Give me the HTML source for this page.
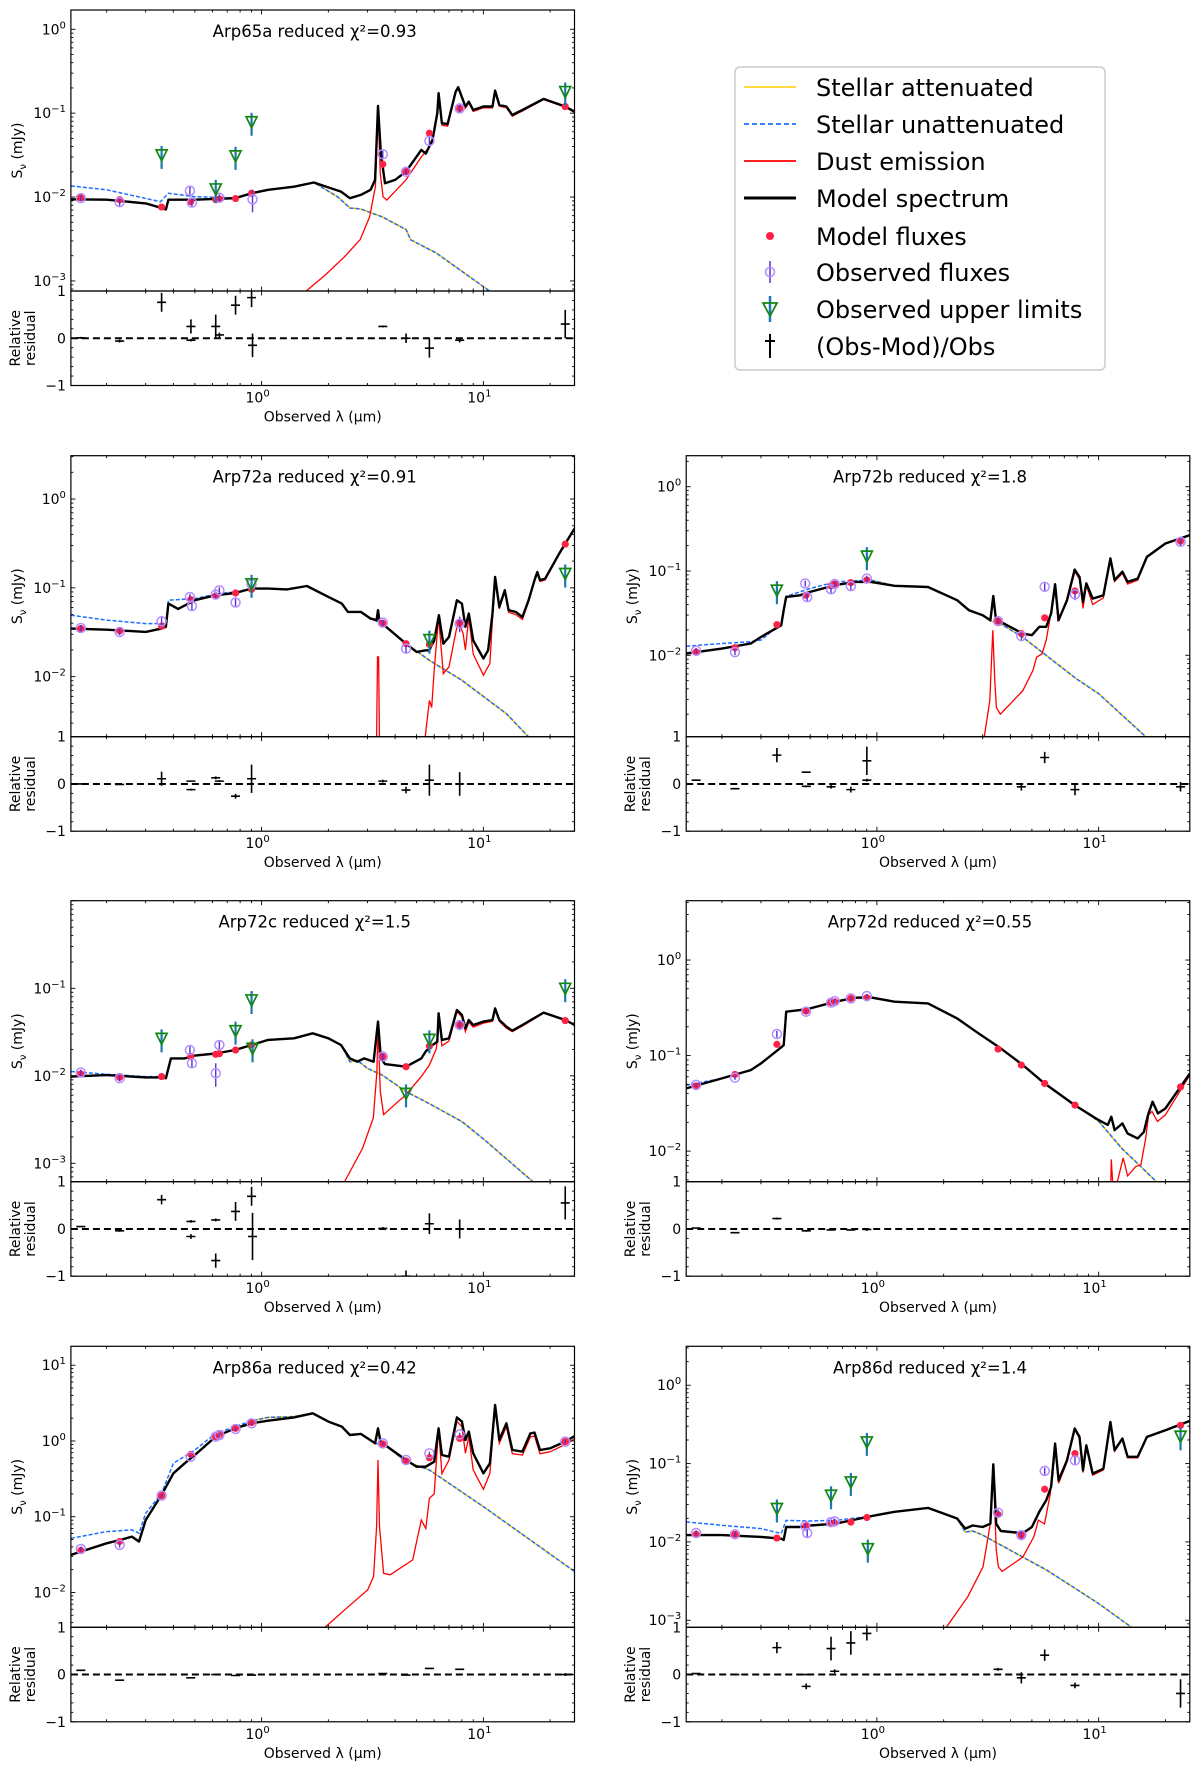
<!DOCTYPE html>
<html><head><meta charset="utf-8">
<style>
html,body{margin:0;padding:0;background:#fff;}
svg{display:block;font-family:"DejaVu Sans","Liberation Sans",sans-serif;}
</style></head>
<body>
<svg id="fig" xmlns="http://www.w3.org/2000/svg" width="1200" height="1767" viewBox="0 0 1200 1767">
<rect x="0" y="0" width="1200" height="1767" fill="#fff"/>
<g id="legend">
<rect x="735" y="67" width="370" height="303" rx="5" fill="#fff" stroke="#cccccc" stroke-width="1.5"/>
<g>
<line x1="744" y1="87" x2="796" y2="87" stroke="#ffcc00" stroke-width="1.5"/>
<text x="816" y="96" font-size="24">Stellar attenuated</text></g>
<g>
<line x1="744" y1="124" x2="796" y2="124" stroke="#1f6fff" stroke-width="1.8" stroke-dasharray="5,3"/>
<text x="816" y="133" font-size="24">Stellar unattenuated</text></g>
<g>
<line x1="744" y1="161" x2="796" y2="161" stroke="#ff0000" stroke-width="1.8"/>
<text x="816" y="170" font-size="24">Dust emission</text></g>
<g>
<line x1="744" y1="198" x2="796" y2="198" stroke="#000" stroke-width="3"/>
<text x="816" y="207" font-size="24">Model spectrum</text></g>
<g>
<circle cx="770" cy="236" r="4" fill="#ff2244"/>
<text x="816" y="245" font-size="24">Model fluxes</text></g>
<g>
<line x1="770" y1="261" x2="770" y2="283" stroke="#5533cc" stroke-width="1.5"/>
<circle cx="770" cy="272" r="4.5" fill="none" stroke="#b48cff" stroke-width="1.5"/>
<text x="816" y="281" font-size="24">Observed fluxes</text></g>
<g>
<line x1="770" y1="296" x2="770" y2="322" stroke="#1f77b4" stroke-width="2.5"/>
<polygon points="763,303 777,303 770,316" fill="none" stroke="#118811" stroke-width="1.8"/>
<text x="816" y="318" font-size="24">Observed upper limits</text></g>
<g>
<line x1="770" y1="334" x2="770" y2="358" stroke="#000" stroke-width="2"/>
<line x1="765" y1="341" x2="775" y2="341" stroke="#000" stroke-width="2"/>
<text x="816" y="355" font-size="24">(Obs-Mod)/Obs</text></g>
</g>
</svg>
<script>
// ---------- Arp65a ----------
const arp65aModel=[[0.138,0.0094],[0.2,0.0093],[0.3,0.0084],[0.354,0.0074],[0.37,0.0071],[0.38,0.0093],[0.5,0.0093],[0.76,0.0097],[0.9,0.0111],[1.07,0.0122],[1.4,0.0133],[1.72,0.0149],[2.28,0.0116],[2.5,0.0097],[2.8,0.0106],[3.1,0.0122],[3.25,0.016],[3.35,0.122],[3.45,0.033],[3.6,0.0146],[4.0,0.016],[4.48,0.0201],[5.25,0.0365],[5.5,0.033],[5.9,0.048],[6.2,0.1],[6.28,0.173],[6.5,0.076],[6.9,0.074],[7.5,0.181],[7.7,0.204],[8.3,0.12],[8.6,0.137],[9.0,0.109],[10,0.12],[11.0,0.12],[11.3,0.186],[11.8,0.125],[12.7,0.12],[13.5,0.095],[15,0.109],[18.7,0.148],[23.4,0.12],[25.8,0.104]];
const arp65aStellar=[[0.138,0.0136],[0.2,0.0122],[0.35,0.0088],[0.38,0.0111],[0.5,0.0101],[0.76,0.0098],[1.07,0.0122],[1.4,0.0133],[1.72,0.0149],[2.2,0.0101],[2.5,0.0074],[2.8,0.0072],[3.5,0.0058],[4.48,0.0041],[4.7,0.0031],[6.15,0.00214],[10.5,0.00078],[13,0.0005]];
const arp65aDust=[[1.4,0.0004],[1.59,0.00076],[1.94,0.00118],[2.37,0.00195],[2.78,0.0031],[3.07,0.0058],[3.26,0.0133],[3.35,0.11],[3.43,0.019],[3.53,0.0101],[3.67,0.0092],[4.48,0.016],[5.25,0.030],[5.71,0.04],[5.9,0.045],[6.2,0.095],[6.28,0.165],[6.5,0.072],[6.9,0.07],[7.5,0.175],[7.7,0.198],[8.3,0.115],[8.6,0.132],[9.0,0.105],[10,0.116],[11.0,0.116],[11.3,0.18],[11.8,0.121],[12.7,0.116],[13.5,0.092],[15,0.106],[18.7,0.145],[23.4,0.118],[25.8,0.102]];
const arp65aModelFlux=[[0.153,0.0098],[0.229,0.0093],[0.354,0.0076],[0.479,0.0088],[0.621,0.0093],[0.645,0.0095],[0.763,0.0096],[0.901,0.0111],[3.52,0.0246],[4.48,0.0201],[5.71,0.0576],[7.82,0.114],[23.4,0.12]];
const arp65aObs=[[0.153,0.0097,0.08],[0.229,0.0087,0.1],[0.475,0.0119,0.15],[0.485,0.0086,0.1],[0.645,0.0098,0.1],[0.91,0.0094,0.3],[3.52,0.0324,0.1],[4.48,0.02,0.08],[5.71,0.0467,0.12],[7.82,0.114,0.1]];
const arp65aUpper=[[0.354,0.0318],[0.621,0.0125],[0.763,0.031],[0.901,0.079],[23.4,0.181]];
const arp65aResid=[[0.153,0.01,0.02],[0.229,-0.06,0.03],[0.354,0.76,0.2],[0.48,0.25,0.15],[0.48,-0.04,0.03],[0.621,0.25,0.25],[0.645,0.07,0.05],[0.763,0.70,0.2],[0.901,0.86,0.2],[0.91,-0.15,0.25],[3.52,0.25,0.02],[4.48,0,0.1],[5.71,-0.21,0.2],[7.82,-0.04,0.05],[23.4,0.30,0.3]];
// ---------- Arp72a ----------
const arp72aModel=[[0.138,0.0348],[0.2,0.0338],[0.3,0.0319],[0.354,0.0348],[0.37,0.0364],[0.38,0.0665],[0.42,0.058],[0.5,0.0726],[0.62,0.0827],[0.76,0.0875],[0.9,0.098],[1.07,0.098],[1.3,0.096],[1.6,0.105],[2.0,0.079],[2.3,0.0665],[2.45,0.0536],[2.8,0.0536],[3.1,0.0451],[3.3,0.0433],[3.35,0.056],[3.4,0.0416],[3.5,0.0396],[4.48,0.0235],[5.0,0.019],[5.5,0.0198],[5.7,0.0198],[6.0,0.0256],[6.3,0.0492],[6.6,0.0235],[7.0,0.028],[7.6,0.0726],[8.0,0.0665],[8.3,0.0364],[8.6,0.0514],[9.0,0.0256],[10,0.016],[10.5,0.0198],[11.0,0.0514],[11.3,0.133],[11.8,0.061],[12.5,0.094],[13.0,0.056],[14,0.0536],[15,0.047],[16,0.0726],[17,0.122],[17.5,0.151],[18,0.122],[19,0.127],[22,0.244],[25.8,0.467]];
const arp72aStellar=[[0.138,0.0492],[0.2,0.0433],[0.3,0.0396],[0.354,0.0396],[0.37,0.04],[0.38,0.0726],[0.5,0.0756],[0.62,0.085],[0.76,0.090],[0.9,0.098],[1.07,0.098],[1.3,0.096],[1.6,0.105],[2.0,0.079],[2.3,0.0665],[2.45,0.0536],[2.8,0.0536],[3.1,0.0451],[3.5,0.0396],[4.48,0.0235],[5.71,0.0153],[8.0,0.0091],[12.7,0.00383],[16,0.0021],[20,0.0012]];
const arp72aDust=[[3.28,0.0005],[3.33,0.0167],[3.37,0.0167],[3.42,0.0005],[5.1,0.0005],[5.25,0.0021],[5.4,0.0016],[5.71,0.0054],[5.85,0.0045],[6.0,0.0118],[6.28,0.047],[6.6,0.0108],[7.0,0.0129],[7.6,0.0363],[7.8,0.04],[8.1,0.0306],[8.3,0.02],[8.6,0.047],[9.0,0.018],[10,0.0104],[10.7,0.0141],[11.0,0.045],[11.3,0.127],[11.8,0.058],[12.5,0.09],[13.0,0.053],[14,0.05],[15,0.044],[16,0.07],[17,0.118],[17.5,0.147],[18,0.118],[19,0.123],[22,0.24],[25.8,0.46]];
const arp72aModelFlux=[[0.153,0.0348],[0.229,0.0328],[0.354,0.037],[0.479,0.0738],[0.621,0.0812],[0.763,0.0875],[0.901,0.0962],[3.52,0.040],[4.48,0.0235],[5.71,0.0231],[7.82,0.0403],[23.4,0.311]];
const arp72aObs=[[0.153,0.0353,0.08],[0.229,0.0319,0.08],[0.354,0.042,0.15],[0.475,0.079,0.08],[0.485,0.0623,0.1],[0.621,0.084,0.08],[0.645,0.094,0.08],[0.763,0.0684,0.1],[0.901,0.11,0.1],[3.52,0.0406,0.08],[4.48,0.0207,0.1],[7.82,0.0395,0.2]];
const arp72aUpper=[[0.901,0.111],[5.71,0.0261],[23.4,0.145]];
const arp72aResid=[[0.153,0,0.01],[0.229,-0.01,0.01],[0.354,0.11,0.15],[0.48,0.06,0.01],[0.48,-0.12,0.02],[0.621,0.13,0.03],[0.645,0.06,0.02],[0.763,-0.26,0.05],[0.901,0.11,0.3],[3.52,0.06,0.03],[4.48,-0.13,0.07],[5.71,0.08,0.33],[7.82,0,0.25]];
// ---------- Arp72b ----------
const arp72bModel=[[0.138,0.0105],[0.2,0.012],[0.27,0.0138],[0.3,0.0165],[0.37,0.0227],[0.38,0.0343],[0.39,0.0493],[0.45,0.0515],[0.5,0.0565],[0.65,0.068],[0.8,0.0743],[0.94,0.0743],[1.2,0.0667],[1.7,0.0646],[2.3,0.045],[2.6,0.0343],[3.0,0.0299],[3.25,0.0261],[3.35,0.0507],[3.45,0.0249],[3.62,0.0249],[4.55,0.0181],[5.0,0.0173],[5.4,0.0218],[5.8,0.0218],[6.1,0.0313],[6.36,0.0698],[6.6,0.0261],[7.2,0.045],[7.8,0.104],[8.2,0.0852],[8.5,0.043],[8.8,0.0712],[9.4,0.047],[10.5,0.0515],[11.3,0.141],[11.8,0.078],[12.8,0.098],[13.5,0.0743],[15,0.081],[16.5,0.147],[20,0.212],[25.8,0.267]];
const arp72bStellar=[[0.138,0.0128],[0.2,0.0138],[0.27,0.0145],[0.3,0.0152],[0.37,0.0238],[0.39,0.05],[0.5,0.062],[0.65,0.0743],[0.94,0.078],[1.2,0.0667],[1.7,0.0646],[2.3,0.045],[2.6,0.0343],[3.0,0.0299],[3.25,0.0255],[3.62,0.0235],[4.55,0.0164],[7.9,0.0053],[10,0.0035],[16.3,0.00108],[20,0.0007]];
const arp72bDust=[[3.0,0.0005],[3.05,0.00108],[3.23,0.0029],[3.33,0.0198],[3.4,0.005],[3.46,0.0024],[3.6,0.002],[4.55,0.0038],[5.05,0.0066],[5.25,0.0095],[5.56,0.0104],[5.8,0.0151],[6.05,0.0286],[6.36,0.0646],[6.55,0.0261],[7.2,0.043],[7.8,0.098],[8.2,0.08],[8.5,0.036],[8.8,0.068],[9.4,0.04],[10.5,0.048],[11.3,0.138],[11.8,0.075],[12.8,0.094],[13.5,0.07],[15,0.078],[16.5,0.145],[20,0.21],[25.8,0.265]];
const arp72bModelFlux=[[0.153,0.0109],[0.229,0.0123],[0.354,0.0231],[0.479,0.0516],[0.621,0.0667],[0.645,0.07],[0.763,0.0728],[0.901,0.078],[3.52,0.0254],[4.48,0.0181],[5.71,0.0278],[7.82,0.058],[23.4,0.226]];
const arp72bObs=[[0.153,0.0113,0.08],[0.229,0.0109,0.08],[0.475,0.071,0.08],[0.485,0.049,0.1],[0.621,0.0607,0.1],[0.645,0.07,0.08],[0.763,0.0661,0.1],[0.901,0.0814,0.08],[3.52,0.0254,0.08],[4.48,0.0169,0.1],[5.71,0.0649,0.1],[7.82,0.053,0.15],[23.4,0.222,0.1]];
const arp72bUpper=[[0.354,0.0592],[0.901,0.15]];
const arp72bResid=[[0.153,0.08,0.01],[0.229,-0.1,0.01],[0.354,0.61,0.15],[0.48,0.25,0.01],[0.48,-0.05,0.02],[0.621,-0.06,0.04],[0.763,-0.12,0.06],[0.901,0.49,0.3],[0.901,0.08,0.03],[3.52,0,0.02],[4.48,-0.06,0.08],[5.71,0.56,0.12],[7.82,-0.12,0.12],[23.4,-0.06,0.1]];
// ---------- Arp72c ----------
const arp72cModel=[[0.138,0.0098],[0.2,0.0102],[0.3,0.0096],[0.354,0.0096],[0.37,0.0094],[0.39,0.0158],[0.45,0.0158],[0.5,0.017],[0.62,0.018],[0.76,0.0197],[0.9,0.0225],[1.07,0.0257],[1.4,0.0268],[1.7,0.0306],[2.0,0.0268],[2.28,0.0225],[2.5,0.0158],[2.7,0.0145],[2.9,0.0158],[3.2,0.0145],[3.35,0.0416],[3.45,0.0158],[3.6,0.0136],[4.48,0.0127],[5.25,0.0158],[5.5,0.019],[5.9,0.0225],[6.2,0.0245],[6.28,0.0518],[6.5,0.0257],[7.0,0.0268],[7.6,0.0565],[8.0,0.0496],[8.3,0.0349],[8.6,0.0434],[9.0,0.0381],[10,0.0416],[11.0,0.0434],[11.3,0.059],[11.8,0.0434],[12.7,0.0365],[13.5,0.0328],[15,0.0381],[18.7,0.0527],[23.4,0.0434],[25.8,0.0381]];
const arp72cStellar=[[0.138,0.0112],[0.2,0.0104],[0.3,0.0098],[0.37,0.0098],[0.39,0.0158],[0.45,0.0158],[0.5,0.017],[0.62,0.018],[0.76,0.0197],[0.9,0.0225],[1.07,0.0257],[1.4,0.0268],[1.7,0.0306],[2.0,0.0268],[2.28,0.0225],[2.5,0.0145],[2.7,0.015],[3.0,0.0122],[3.5,0.0102],[4.48,0.0066],[5.71,0.0048],[8.0,0.003],[10,0.0019],[16.7,0.00062],[20,0.0004]];
const arp72cDust=[[2.2,0.0004],[2.37,0.00062],[2.85,0.00148],[3.19,0.0033],[3.31,0.0111],[3.35,0.038],[3.43,0.0066],[3.55,0.0036],[4.48,0.0061],[5.25,0.0098],[5.71,0.0133],[6.15,0.0206],[6.28,0.0496],[6.5,0.022],[7.0,0.025],[7.6,0.054],[8.0,0.047],[8.3,0.032],[8.6,0.041],[9.0,0.036],[10,0.04],[11,0.042],[11.3,0.057],[11.8,0.042],[12.7,0.035],[13.5,0.032],[15,0.037],[18.7,0.052],[23.4,0.043],[25.8,0.038]];
const arp72cModelFlux=[[0.153,0.0105],[0.229,0.0096],[0.354,0.0098],[0.479,0.0166],[0.621,0.0176],[0.645,0.0179],[0.763,0.0197],[0.901,0.0225],[3.52,0.0166],[4.48,0.0127],[5.71,0.0219],[7.82,0.0381],[23.4,0.0427]];
const arp72cObs=[[0.153,0.0109,0.08],[0.229,0.0094,0.08],[0.475,0.0197,0.1],[0.485,0.0139,0.1],[0.621,0.0107,0.3],[0.645,0.0225,0.1],[3.52,0.0166,0.08],[7.82,0.0381,0.12]];
const arp72cUpper=[[0.354,0.0268],[0.763,0.0328],[0.901,0.0736],[0.91,0.0206],[4.48,0.0063],[5.71,0.0261],[23.4,0.1]];
const arp72cResid=[[0.153,0.05,0.01],[0.229,-0.04,0.02],[0.354,0.62,0.1],[0.48,0.16,0.03],[0.48,-0.16,0.05],[0.621,0.19,0.03],[0.621,-0.67,0.15],[0.763,0.37,0.2],[0.901,0.69,0.2],[0.91,-0.16,0.5],[3.52,0.01,0.03],[4.48,-1.0,0.12],[5.71,0.11,0.22],[7.82,0,0.2],[23.4,0.55,0.35]];
// ---------- Arp72d ----------
const arp72dModel=[[0.138,0.0453],[0.2,0.0577],[0.27,0.0705],[0.3,0.0828],[0.37,0.122],[0.38,0.1285],[0.39,0.288],[0.45,0.299],[0.5,0.312],[0.65,0.366],[0.8,0.403],[0.94,0.406],[1.2,0.366],[1.7,0.352],[2.3,0.245],[2.8,0.178],[3.62,0.119],[4.55,0.0796],[5.7,0.0511],[7.8,0.0303],[10,0.0211],[11.0,0.0188],[11.4,0.0229],[11.8,0.0166],[12.8,0.0195],[13.5,0.0153],[15,0.0136],[16,0.0159],[16.7,0.0239],[17.5,0.0329],[18.5,0.0248],[20,0.0279],[25.8,0.065]];
const arp72dStellar=[[0.138,0.049],[0.2,0.0577],[0.27,0.0705],[0.3,0.0828],[0.37,0.122],[0.38,0.1285],[0.39,0.288],[0.45,0.299],[0.5,0.312],[0.65,0.366],[0.8,0.403],[0.94,0.406],[1.2,0.366],[1.7,0.352],[2.3,0.245],[2.8,0.178],[3.62,0.119],[4.55,0.0796],[5.7,0.0511],[7.8,0.0303],[10,0.0205],[12.7,0.0107],[15,0.0074],[18.2,0.0048],[22,0.003]];
const arp72dDust=[[11.3,0.003],[11.4,0.0082],[11.6,0.004],[12.2,0.005],[12.9,0.0085],[13.5,0.0055],[14.7,0.0069],[15.5,0.0072],[16.3,0.0136],[16.8,0.024],[17.4,0.026],[18.4,0.0204],[20,0.024],[25.8,0.0624]];
const arp72dModelFlux=[[0.153,0.048],[0.229,0.0635],[0.354,0.131],[0.479,0.292],[0.621,0.36],[0.645,0.366],[0.763,0.397],[0.901,0.403],[3.52,0.117],[4.48,0.0796],[5.71,0.0511],[7.82,0.0303],[23.4,0.047]];
const arp72dObs=[[0.153,0.0493,0.05],[0.229,0.0587,0.05],[0.354,0.168,0.08],[0.479,0.288,0.05],[0.621,0.358,0.05],[0.645,0.372,0.05],[0.763,0.397,0.05],[0.901,0.42,0.05]];
const arp72dUpper=[];
const arp72dResid=[[0.153,0.02,0.01],[0.229,-0.08,0.01],[0.354,0.22,0.02],[0.48,-0.04,0.02],[0.621,-0.02,0.01],[0.763,-0.02,0.01],[0.901,-0.01,0.03]];
// ---------- Arp86a ----------
const arp86aModel=[[0.138,0.0313],[0.2,0.0446],[0.23,0.0493],[0.26,0.0546],[0.28,0.047],[0.3,0.0906],[0.354,0.194],[0.4,0.374],[0.45,0.507],[0.5,0.653],[0.62,1.14],[0.76,1.47],[0.9,1.71],[1.07,1.85],[1.4,2.05],[1.7,2.32],[2.0,1.8],[2.3,1.55],[2.5,1.2],[2.8,1.24],[3.25,0.931],[3.35,1.47],[3.45,0.913],[3.6,0.886],[4.48,0.561],[5.0,0.458],[5.5,0.458],[6.0,0.533],[6.28,1.47],[6.5,0.653],[7.0,0.62],[7.6,2.05],[8.0,1.8],[8.3,1.03],[8.6,1.33],[9.0,0.688],[10,0.374],[10.7,0.507],[11.3,2.99],[11.8,1.03],[12.7,1.71],[13.5,0.76],[15,0.723],[16.3,1.26],[17,1.29],[18,0.76],[20,0.8],[23.4,0.98],[25.8,1.16]];
const arp86aStellar=[[0.138,0.0519],[0.2,0.0636],[0.26,0.067],[0.28,0.0606],[0.3,0.111],[0.354,0.204],[0.4,0.507],[0.5,0.76],[0.62,1.26],[0.76,1.55],[0.9,1.84],[1.07,2.05],[1.4,2.1],[1.7,2.32],[2.0,1.8],[2.3,1.55],[2.5,1.2],[2.8,1.24],[3.25,0.931],[3.6,0.886],[4.48,0.533],[5.71,0.414],[10,0.136],[25.8,0.0189]];
const arp86aDust=[[1.3,0.001],[1.94,0.0035],[2.37,0.0059],[3.01,0.0108],[3.2,0.0163],[3.3,0.0741],[3.35,0.561],[3.4,0.074],[3.55,0.0179],[3.8,0.0171],[4.8,0.0269],[5.25,0.0906],[5.5,0.07],[5.71,0.175],[6.0,0.2],[6.28,1.47],[6.5,0.37],[7.0,0.561],[7.6,1.8],[8.0,1.55],[8.3,0.688],[8.6,1.14],[9.0,0.415],[10,0.23],[10.7,0.374],[11.3,2.84],[11.8,0.93],[12.7,1.55],[13.5,0.68],[15,0.65],[16.3,1.13],[17,1.16],[18,0.68],[20,0.72],[23.4,0.9],[25.8,1.07]];
const arp86aModelFlux=[[0.153,0.0358],[0.229,0.0471],[0.354,0.19],[0.479,0.667],[0.621,1.14],[0.645,1.2],[0.763,1.47],[0.901,1.75],[3.52,0.913],[4.48,0.545],[5.71,0.6],[7.82,1.08],[23.4,0.98]];
const arp86aObs=[[0.153,0.0375,0.08],[0.229,0.0425,0.08],[0.354,0.19,0.05],[0.479,0.621,0.05],[0.621,1.14,0.05],[0.645,1.2,0.05],[0.763,1.44,0.05],[0.901,1.71,0.05],[3.52,0.93,0.05],[4.48,0.561,0.05],[5.71,0.687,0.05],[7.82,1.22,0.05],[23.4,0.98,0.05]];
const arp86aUpper=[];
const arp86aResid=[[0.153,0.09,0.01],[0.229,-0.12,0.01],[0.354,0,0.01],[0.479,-0.07,0.01],[0.621,0,0.01],[0.763,-0.02,0.01],[0.901,-0.01,0.01],[3.52,0.02,0.01],[4.48,-0.01,0.01],[5.71,0.13,0.01],[7.82,0.11,0.01],[23.4,0,0.03]];
// ---------- Arp86d ----------
const arp86dModel=[[0.138,0.0122],[0.2,0.0122],[0.3,0.0116],[0.37,0.011],[0.38,0.0106],[0.39,0.0155],[0.45,0.0155],[0.5,0.0162],[0.65,0.0171],[0.8,0.0193],[0.94,0.0213],[1.2,0.0242],[1.7,0.0272],[2.3,0.0199],[2.5,0.0148],[2.7,0.0162],[3.0,0.0155],[3.25,0.0171],[3.35,0.098],[3.45,0.0171],[3.62,0.0138],[4.55,0.0129],[5.0,0.0155],[5.4,0.0242],[5.8,0.034],[6.1,0.0502],[6.36,0.18],[6.6,0.061],[7.2,0.11],[7.8,0.28],[8.2,0.219],[8.5,0.082],[8.8,0.171],[9.4,0.0745],[10.5,0.086],[11.3,0.34],[11.8,0.148],[12.8,0.209],[13.5,0.122],[15,0.122],[16.5,0.219],[20,0.266],[25.8,0.351]];
const arp86dStellar=[[0.138,0.018],[0.2,0.0163],[0.3,0.0148],[0.37,0.0128],[0.39,0.0188],[0.5,0.0185],[0.65,0.0188],[0.94,0.0213],[1.2,0.0242],[1.7,0.0272],[2.3,0.0199],[2.5,0.0134],[2.7,0.0138],[3.0,0.0122],[4.55,0.0064],[5.8,0.0044],[10,0.00163],[14,0.00082],[18,0.0004]];
const arp86dDust=[[1.9,0.0005],[2.06,0.00082],[2.57,0.002],[3.01,0.0048],[3.23,0.0156],[3.35,0.091],[3.45,0.008],[3.53,0.0048],[3.67,0.0042],[4.55,0.0064],[5.1,0.0116],[5.35,0.019],[5.7,0.017],[6.05,0.0413],[6.36,0.163],[6.6,0.056],[7.2,0.104],[7.8,0.27],[8.2,0.21],[8.5,0.077],[8.8,0.165],[9.4,0.071],[10.5,0.083],[11.3,0.33],[11.8,0.143],[12.8,0.203],[13.5,0.118],[15,0.118],[16.5,0.215],[20,0.262],[25.8,0.347]];
const arp86dModelFlux=[[0.153,0.0125],[0.229,0.0125],[0.354,0.0112],[0.479,0.016],[0.621,0.0171],[0.645,0.0174],[0.763,0.0179],[0.901,0.0205],[3.52,0.0223],[4.48,0.0122],[5.71,0.047],[7.82,0.134],[23.4,0.308]];
const arp86dObs=[[0.153,0.013,0.08],[0.229,0.0125,0.08],[0.475,0.016,0.08],[0.485,0.013,0.1],[0.621,0.0179,0.08],[0.645,0.0183,0.08],[3.52,0.0236,0.1],[4.48,0.0122,0.12],[5.71,0.0806,0.1],[7.82,0.11,0.1]];
const arp86dUpper=[[0.354,0.0267],[0.621,0.0394],[0.763,0.0583],[0.901,0.189],[0.91,0.0082],[23.4,0.223]];
const arp86dResid=[[0.153,0.02,0.01],[0.229,0,0.01],[0.354,0.57,0.12],[0.48,-0.25,0.06],[0.48,0,0.01],[0.621,0.55,0.25],[0.645,0.07,0.04],[0.763,0.67,0.25],[0.901,0.87,0.15],[3.52,0.11,0.03],[4.48,-0.07,0.12],[5.71,0.41,0.12],[7.82,-0.23,0.06],[23.4,-0.4,0.3]];

const panelNames=["Arp65a","Arp72a","Arp72b","Arp72c","Arp72d","Arp86a","Arp86d"];
const panelChi=["0.93","0.91","1.8","1.5","0.55","0.42","1.4"];
const panelYMin=[-3.12,-2.676,-2.966,-3.21,-2.32,-2.46,-3.09];
const panelYMax=[0.23,0.488,0.368,0.001,0.621,1.25,0.497];

const NS="http://www.w3.org/2000/svg";
const svg=document.getElementById('fig');
const COLX=[[70.9,574.5],[686.2,1189.8]];
const ROWY=[10,455.7,900.7,1346.3];
const MAINH=281, RESH=94.5;
const XMIN=-0.86, XMAX=1.411;
const layout=[[0,0],[0,1],[1,1],[0,2],[1,2],[0,3],[1,3]];
const series=[
 [arp65aModel,arp65aStellar,arp65aDust,arp65aModelFlux,arp65aObs,arp65aUpper,arp65aResid],
 [arp72aModel,arp72aStellar,arp72aDust,arp72aModelFlux,arp72aObs,arp72aUpper,arp72aResid],
 [arp72bModel,arp72bStellar,arp72bDust,arp72bModelFlux,arp72bObs,arp72bUpper,arp72bResid],
 [arp72cModel,arp72cStellar,arp72cDust,arp72cModelFlux,arp72cObs,arp72cUpper,arp72cResid],
 [arp72dModel,arp72dStellar,arp72dDust,arp72dModelFlux,arp72dObs,arp72dUpper,arp72dResid],
 [arp86aModel,arp86aStellar,arp86aDust,arp86aModelFlux,arp86aObs,arp86aUpper,arp86aResid],
 [arp86dModel,arp86dStellar,arp86dDust,arp86dModelFlux,arp86dObs,arp86dUpper,arp86dResid]
];

function mk(tag,attrs,parent){
  const el=document.createElementNS(NS,tag);
  for(const k in attrs) el.setAttribute(k,attrs[k]);
  (parent||svg).appendChild(el);
  return el;
}
function tag(el,name){
  
  
}

function drawPanel(i){
  const id=panelNames[i].toLowerCase();
  const [ci,ri]=layout[i];
  const x0=COLX[ci][0], x1=COLX[ci][1], w=x1-x0;
  const y0=ROWY[ri], yb=y0+MAINH, rb=yb+RESH;
  const ymin=panelYMin[i], ymax=panelYMax[i];
  const X=l=>x0+(Math.log10(l)-XMIN)/(XMAX-XMIN)*w;
  const Y=f=>y0+(ymax-Math.log10(f))/(ymax-ymin)*MAINH;
  const YR=v=>yb+(1-v)/2*RESH;
  const [model,stellar,dust,mflux,obs,upper,resid]=series[i];

  const g=mk('g',{});
  tag(g,id+'-panel');
  const defs=mk('defs',{},g);
  const cp=mk('clipPath',{id:'clip'+i},defs);
  mk('rect',{x:x0,y:y0,width:w,height:MAINH},cp);
  const cpr=mk('clipPath',{id:'clipr'+i},defs);
  mk('rect',{x:x0,y:yb,width:w,height:RESH},cpr);

  const plot=mk('g',{'clip-path':'url(#clip'+i+')'},g);
  tag(plot,id+'-plot-area');
  const pts=arr=>arr.map(p=>X(p[0]).toFixed(1)+','+Y(p[1]).toFixed(1)).join(' ');
  const yel=mk('polyline',{points:pts(stellar.filter(p=>p[0]>=0.9)),fill:'none',stroke:'#ffcc00','stroke-width':1.6},plot);
  tag(yel,id+'-stellar-attenuated-line');
  const blu=mk('polyline',{points:pts(stellar),fill:'none',stroke:'#1f6fff','stroke-width':1.5,'stroke-dasharray':'4,2'},plot);
  tag(blu,id+'-stellar-unattenuated-line');
  const red=mk('polyline',{points:pts(dust),fill:'none',stroke:'#ff0000','stroke-width':1.3},plot);
  tag(red,id+'-dust-emission-line');
  const blk=mk('polyline',{points:pts(model),fill:'none',stroke:'#000','stroke-width':2.4,'stroke-linejoin':'round'},plot);
  tag(blk,id+'-model-spectrum-line');

  mflux.forEach((p,k)=>{
    const c=mk('circle',{cx:X(p[0]),cy:Y(p[1]),r:3.6,fill:'#ff2244'},plot);
    tag(c,id+'-model-flux-'+k);
  });
  obs.forEach((p,k)=>{
    const gg=mk('g',{},plot);
    tag(gg,id+'-observed-flux-'+k);
    const xx=X(p[0]);
    mk('line',{x1:xx,x2:xx,y1:Y(p[1]*(1+p[2])),y2:Y(Math.max(p[1]*(1-p[2]),1e-9)),stroke:'#5533cc','stroke-width':1.4},gg);
    mk('circle',{cx:xx,cy:Y(p[1]),r:4.5,fill:'none',stroke:'#b48cff','stroke-width':1.5},gg);
  });
  upper.forEach((p,k)=>{
    const gg=mk('g',{},plot);
    tag(gg,id+'-upper-limit-'+k);
    const xx=X(p[0]), yy=Y(p[1]);
    mk('line',{x1:xx,x2:xx,y1:yy-9,y2:yy+14,stroke:'#1f77b4','stroke-width':2.2},gg);
    mk('polygon',{points:(xx-5.5)+','+(yy-5)+' '+(xx+5.5)+','+(yy-5)+' '+xx+','+(yy+6),fill:'none',stroke:'#118811','stroke-width':1.7},gg);
  });

  // residual plot
  const rp=mk('g',{'clip-path':'url(#clipr'+i+')'},g);
  tag(rp,id+'-residual-area');
  const zl=mk('line',{x1:x0,x2:x1,y1:YR(0),y2:YR(0),stroke:'#000','stroke-width':2,'stroke-dasharray':'7,4'},rp);
  tag(zl,id+'-zero-line');
  resid.forEach((p,k)=>{
    const gg=mk('g',{},rp);
    tag(gg,id+'-residual-'+k);
    const xx=X(p[0]);
    mk('line',{x1:xx,x2:xx,y1:YR(p[1]+p[2]),y2:YR(p[1]-p[2]),stroke:'#000','stroke-width':1.6},gg);
    mk('line',{x1:xx-4.5,x2:xx+4.5,y1:YR(p[1]),y2:YR(p[1]),stroke:'#000','stroke-width':1.6},gg);
  });

  // frames
  const fr=mk('rect',{x:x0,y:y0,width:w,height:MAINH,fill:'none',stroke:'#000','stroke-width':1.2},g);
  tag(fr,id+'-main-frame');
  const fr2=mk('rect',{x:x0,y:yb,width:w,height:RESH,fill:'none',stroke:'#000','stroke-width':1.2},g);
  tag(fr2,id+'-residual-frame');

  // ticks
  const tk=mk('g',{stroke:'#000','stroke-width':0.9},g);
  tag(tk,id+'-ticks');
  const xt=(l,len)=>{const xx=X(l);
    [[y0,1],[yb,-1],[yb,1],[rb,-1]].forEach(([yy,s])=>mk('line',{x1:xx,x2:xx,y1:yy,y2:yy+s*len},tk));};
  for(let d=-1;d<=1;d++)for(let m=1;m<=9;m++){const lg=d+Math.log10(m); if(lg<XMIN||lg>XMAX)continue; xt(Math.pow(10,lg),m===1?4.5:2.5);}
  const yt=(lg,len)=>{const yy=y0+(ymax-lg)/(ymax-ymin)*MAINH;
    mk('line',{x1:x0,x2:x0+len,y1:yy,y2:yy},tk); mk('line',{x1:x1,x2:x1-len,y1:yy,y2:yy},tk);};
  for(let d=Math.floor(ymin);d<=Math.ceil(ymax);d++)for(let m=1;m<=9;m++){const lg=d+Math.log10(m); if(lg<ymin||lg>ymax)continue; yt(lg,m===1?4.5:2.5);}
  for(let v=-1;v<=1.001;v+=0.2){const yy=YR(v); const major=Math.abs(v-Math.round(v))<0.01; const len=major?4.5:2.5;
    mk('line',{x1:x0,x2:x0+len,y1:yy,y2:yy},tk); mk('line',{x1:x1,x2:x1-len,y1:yy,y2:yy},tk);}

  // tick labels
  for(let d=Math.ceil(ymin);d<=Math.floor(ymax-0.02);d++){
    const t=mk('text',{x:x0-5,y:y0+(ymax-d)/(ymax-d+ (ymax-ymin) - (ymax-d))*0+ (ymax-d)/(ymax-ymin)*MAINH+5,'font-size':14,'text-anchor':'end'},g);
    tag(t,id+'-ytick-label');
    t.appendChild(document.createTextNode('10'));
    const s=mk('tspan',{dy:-6,'font-size':10},t);
    s.textContent=(d<0?'\u2212':'')+Math.abs(d);
  }
  [[1,'1'],[0,'0'],[-1,'\u22121']].forEach(([v,s])=>{
    const t=mk('text',{x:x0-5,y:YR(v)+5,'font-size':14,'text-anchor':'end'},g);
    tag(t,id+'-residual-tick-label');
    t.textContent=s;
  });
  [[1,'0'],[10,'1']].forEach(([l,s])=>{
    const t=mk('text',{x:X(l)-4,y:rb+17,'font-size':14,'text-anchor':'middle'},g);
    tag(t,id+'-xtick-label');
    t.appendChild(document.createTextNode('10'));
    const sp=mk('tspan',{dy:-6,'font-size':10},t);
    sp.textContent=s;
  });

  // labels
  const cx=(x0+x1)/2;
  const ttl=mk('text',{x:cx-8,y:y0+27,'font-size':16.5,'text-anchor':'middle'},g);
  tag(ttl,id+'-title');
  ttl.textContent=panelNames[i]+' reduced \u03c7\u00b2='+panelChi[i];
  const xl=mk('text',{x:cx,y:rb+36,'font-size':14,'text-anchor':'middle'},g);
  tag(xl,id+'-x-axis-title');
  xl.textContent='Observed \u03bb (\u03bcm)';
  const ly=y0+MAINH/2;
  const yl=mk('text',{x:x0-49,y:ly,'font-size':14,'text-anchor':'middle',transform:'rotate(-90 '+(x0-49)+' '+ly+')'},g);
  tag(yl,id+'-y-axis-title');
  yl.appendChild(document.createTextNode('S'));
  const sub=mk('tspan',{dy:4,'font-size':10},yl);
  sub.textContent='\u03bd';
  const rest=mk('tspan',{dy:-4},yl);
  rest.textContent=' (mJy)';
  const lr=yb+RESH/2;
  const r1=mk('text',{x:x0-51,y:lr,'font-size':14,'text-anchor':'middle',transform:'rotate(-90 '+(x0-51)+' '+lr+')'},g);
  tag(r1,id+'-residual-axis-title-line1');
  r1.textContent='Relative';
  const r2=mk('text',{x:x0-36,y:lr,'font-size':14,'text-anchor':'middle',transform:'rotate(-90 '+(x0-36)+' '+lr+')'},g);
  tag(r2,id+'-residual-axis-title-line2');
  r2.textContent='residual';
}
for(let i=0;i<panelNames.length;i++) drawPanel(i);
// keep legend on top
svg.appendChild(document.getElementById('legend'));
</script>
</body></html>
